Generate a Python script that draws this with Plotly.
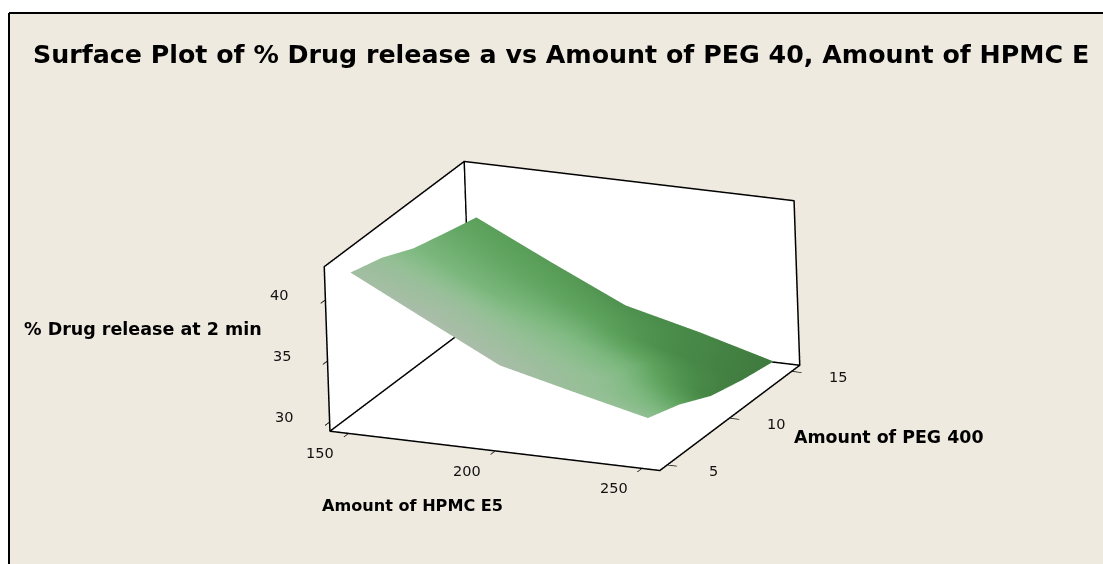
import plotly.graph_objects as go

# ---- data ----
hpmc = [150, 175, 200, 225, 250]
peg = [5, 7.5, 10, 12.5, 15]
release = [
    [41.96, 38.86, 35.79, 34.33, 32.91],
    [41.26, 38.09, 34.93, 33.51, 32.10],
    [40.11, 37.28, 34.19, 32.64, 30.89],
    [39.44, 36.54, 33.58, 32.03, 30.28],
    [38.81, 35.87, 33.04, 31.56, 29.88],
]
shade = [
    [0.08, 0.00, 0.02, 0.18, 0.25],
    [0.22, 0.15, 0.18, 0.27, 0.58],
    [0.40, 0.42, 0.35, 0.48, 0.90],
    [0.52, 0.55, 0.57, 0.80, 0.97],
    [0.62, 0.66, 0.75, 0.85, 1.00],
]
x_ticks = [150, 200, 250]
y_ticks = [5, 10, 15]
z_ticks = [30, 35, 40]
x_frame = [143.8, 256.2]
y_frame = [4.38, 15.62]
z_frame = [29.27, 42.74]

title = "Surface Plot of % Drug release a vs Amount of PEG 40, Amount of HPMC E"
x_title = "Amount of HPMC E5"
y_title = "Amount of PEG 400"
z_title = "% Drug release at 2 min"

BEIGE = "#efeae0"
FONT = "DejaVu Sans"
W, H = 1103, 564


def px(v):
    return v / W


def py(v):
    return 1 - v / H


x0, x1 = x_frame
y0, y1 = y_frame
z0, z1 = z_frame
# walls sit a hair outside the frame so the frame lines stay in front of them
x_range = [x0 - 0.12, x1 + 0.12]
y_range = [y0 - 0.012, y1 + 0.012]
z_range = [z0 - 0.03, z1 + 0.03]
frame_x = [x0, x1, x1, x1, x0, x0, x0, x0, None, x0, x0, None, x0, x1]
frame_y = [y0, y0, y1, y1, y1, y0, y0, y1, None, y1, y1, None, y1, y1]
frame_z = [z0, z0, z0, z1, z1, z1, z0, z0, None, z0, z1, None, z0, z0]

fig = go.Figure()
fig.add_trace(go.Surface(
    x=hpmc, y=peg, z=release, surfacecolor=shade, cmin=0, cmax=1,
    showscale=False,
    colorscale=[[0, "#abbdaa"], [0.25, "#92bf93"], [0.4, "#7eb980"],
                [0.6, "#5da25d"], [0.8, "#4a8c4a"], [1, "#3f7a3e"]],
    lighting=dict(ambient=1, diffuse=0, specular=0, fresnel=0, roughness=1),
))
fig.add_trace(go.Scatter3d(
    x=frame_x, y=frame_y, z=frame_z, mode="lines",
    line=dict(color="black", width=3), showlegend=False, hoverinfo="skip",
))


def axis(vals, rng):
    return dict(range=rng, tickvals=vals, showticklabels=False, ticks="outside",
                ticklen=10, tickcolor="black", tickwidth=2, title=dict(text=""),
                showgrid=False, zeroline=False, showline=False, showspikes=False,
                showbackground=True, backgroundcolor="white")


tick_font = dict(family=FONT, size=14.5, color="#111111")
scene_notes = []
for v in x_ticks:
    scene_notes.append(dict(x=v, y=y0, z=z0, text=str(v), showarrow=False,
                            xshift=-28, yshift=-20, font=tick_font))
for v in y_ticks:
    scene_notes.append(dict(x=x1, y=v, z=z0, text=str(v), showarrow=False,
                            xshift=46, yshift=-6, font=tick_font))
for v in z_ticks:
    scene_notes.append(dict(x=x0, y=y0, z=v, text=str(v), showarrow=False,
                            xshift=-46, yshift=5, font=tick_font))


def label(text, left, cy, size):
    return dict(text=f"<b>{text}</b>", x=px(left), y=py(cy), xref="paper", yref="paper",
                xanchor="left", yanchor="middle", showarrow=False,
                font=dict(family=FONT, size=size, color="black"))


ZOOM = 1.364
fig.update_layout(
    width=W, height=H, margin=dict(l=0, r=0, t=0, b=0), paper_bgcolor="white",
    showlegend=False,
    shapes=[
        dict(type="rect", xref="paper", yref="paper", x0=px(9), x1=1, y0=0, y1=py(13),
             fillcolor=BEIGE, line=dict(width=0), layer="below"),
        dict(type="line", xref="paper", yref="paper", x0=px(9), x1=1, y0=py(13), y1=py(13),
             line=dict(color="black", width=2), layer="below"),
        dict(type="line", xref="paper", yref="paper", x0=px(9), x1=px(9), y0=0, y1=py(13),
             line=dict(color="black", width=2), layer="below"),
    ],
    annotations=[
        label(title, 31, 55, 25.3),
        label(z_title, 22, 329, 17.5),
        label(x_title, 320, 505, 16.1),
        label(y_title, 792, 437, 17.4),
    ],
    scene=dict(
        domain=dict(x=[px(22), px(1102)], y=[py(564), py(68)]),
        aspectmode="manual",
        aspectratio=dict(x=1.0746 * ZOOM, y=ZOOM, z=0.5176 * ZOOM),
        xaxis=axis(x_ticks, x_range), yaxis=axis(y_ticks, y_range), zaxis=axis(z_ticks, z_range),
        camera=dict(eye=dict(x=0.4015 * 2.5, y=-0.8549 * 2.5, z=0.3285 * 2.5),
                    up=dict(x=-0.1083, y=0.3118, z=0.9439),
                    center=dict(x=0, y=0, z=0),
                    projection=dict(type="orthographic")),
        annotations=scene_notes,
    ),
)
fig.write_html(
    "out.html",
    config=dict(displayModeBar=False),
    post_script="document.body.style.margin='0';document.documentElement.style.overflow='hidden';",
)
